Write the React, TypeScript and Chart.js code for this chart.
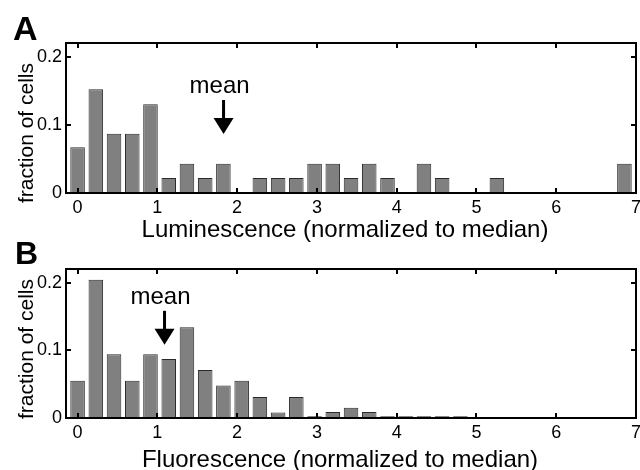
import React, { useEffect, useRef } from 'react';
import { Chart, registerables } from 'chart.js';

Chart.register(...registerables);

// ---------- data ----------
const binCenters = [
  0.0, 0.229, 0.457, 0.686, 0.914, 1.143, 1.371, 1.6, 1.828, 2.057, 2.285,
  2.514, 2.742, 2.971, 3.199, 3.428, 3.656, 3.885, 4.113, 4.342, 4.57,
  4.799, 5.027, 5.256, 5.484, 5.713, 5.941, 6.17, 6.398, 6.627, 6.855,
];
const luminescenceFractions = [
  0.067, 0.152, 0.087, 0.087, 0.13, 0.022, 0.043, 0.022, 0.043, 0, 0.022,
  0.022, 0.022, 0.043, 0.043, 0.022, 0.043, 0.022, 0, 0.043, 0.022,
  0, 0, 0.022, 0, 0, 0, 0, 0, 0, 0.043,
];
const fluorescenceFractions = [
  0.055, 0.204, 0.094, 0.055, 0.094, 0.087, 0.134, 0.071, 0.048, 0.055, 0.031,
  0.008, 0.031, 0.0025, 0.009, 0.015, 0.009, 0.0025, 0.0025, 0.0025, 0.0025,
  0.0025, 0, 0, 0, 0, 0, 0, 0, 0, 0,
];
const meanLuminescence = 1.83;
const meanFluorescence = 1.09;
const xTickValues = [0, 1, 2, 3, 4, 5, 6, 7];
const xTickLabels = ['0', '1', '2', '3', '4', '5', '6', '7'];
const yTickValues = [0, 0.1, 0.2];
const yTickLabels = ['0', '0.1', '0.2'];
const panelLetters = ['A', 'B'];
const xTitles = ['Luminescence (normalized to median)', 'Fluorescence (normalized to median)'];
const yTitle = 'fraction of cells';
const meanLabel = 'mean';

const FONT = '"Liberation Sans", Arial, Helvetica, sans-serif';
const W = 640;
const H = 470;

interface PanelStyle {
  padTop: number;
  xAxisHeight: number;
  letterX: number;
  letterBaseline: number;
  letterSize: number;
  yTitleCenter: number;
  xTitleCenter: number;
  xTitleBaseline: number;
  arrowTip: number;
}

// both panels share one 640x470 coordinate frame (overlapping transparent canvases)
const stylesA: PanelStyle = {
  padTop: 43,
  xAxisHeight: 277,
  letterX: 13,
  letterBaseline: 40,
  letterSize: 34,
  yTitleCenter: 133,
  xTitleCenter: 345,
  xTitleBaseline: 237,
  arrowTip: 0.0865,
};
const stylesB: PanelStyle = {
  padTop: 269,
  xAxisHeight: 52,
  letterX: 15,
  letterBaseline: 264,
  letterSize: 32,
  yTitleCenter: 349,
  xTitleCenter: 340,
  xTitleBaseline: 467,
  arrowTip: 0.108,
};

function makeConfig(values: number[], mean: number, letter: string, xTitle: string, st: PanelStyle): any {
  const decor = {
    id: 'matlabDecor',
    afterDraw(chart: any) {
      const { ctx, chartArea: a, scales } = chart;
      const x = scales.x;
      const y = scales.y;
      ctx.save();
      ctx.strokeStyle = '#000';
      ctx.lineWidth = 2;
      ctx.beginPath();
      xTickValues.forEach((v) => {
        const px = Math.round(x.getPixelForValue(v));
        ctx.moveTo(px, a.bottom);
        ctx.lineTo(px, a.bottom - 5);
        ctx.moveTo(px, a.top);
        ctx.lineTo(px, a.top + 5);
      });
      yTickValues.forEach((v) => {
        const py = Math.round(y.getPixelForValue(v));
        ctx.moveTo(a.left, py);
        ctx.lineTo(a.left + 5, py);
        ctx.moveTo(a.right, py);
        ctx.lineTo(a.right - 5, py);
      });
      ctx.stroke();
      ctx.strokeRect(a.left, a.top, a.right - a.left, a.bottom - a.top);

      // mean arrow
      const mx = x.getPixelForValue(mean);
      const tipY = y.getPixelForValue(st.arrowTip);
      ctx.fillStyle = '#000';
      ctx.beginPath();
      ctx.moveTo(mx, tipY);
      ctx.lineTo(mx - 10, tipY - 16);
      ctx.lineTo(mx + 10, tipY - 16);
      ctx.closePath();
      ctx.fill();
      ctx.fillRect(mx - 1.5, tipY - 34, 3, 19);
      ctx.font = `24px ${FONT}`;
      ctx.textAlign = 'center';
      ctx.textBaseline = 'alphabetic';
      ctx.fillText(meanLabel, mx - 4, tipY - 41);

      // x title
      ctx.fillText(xTitle, st.xTitleCenter, st.xTitleBaseline);

      // panel letter
      ctx.font = `bold ${st.letterSize}px ${FONT}`;
      ctx.textAlign = 'left';
      ctx.fillText(letter, st.letterX, st.letterBaseline);

      // y title
      ctx.translate(33, st.yTitleCenter);
      ctx.rotate(-Math.PI / 2);
      ctx.font = `21px ${FONT}`;
      ctx.textAlign = 'center';
      ctx.fillText(yTitle, 0, 0);
      ctx.restore();
    },
  };

  return {
    type: 'bar',
    data: {
      datasets: [
        {
          data: binCenters.map((c, i) => ({ x: c, y: values[i] })),
          backgroundColor: '#808080',
          borderColor: '#2a2a2a',
          borderWidth: 1,
          barPercentage: 0.8,
          categoryPercentage: 1,
        },
      ],
    },
    options: {
      responsive: false,
      animation: false,
      devicePixelRatio: 1,
      layout: { padding: { top: st.padTop, right: 4, left: 0, bottom: 0 } },
      plugins: { legend: { display: false }, tooltip: { enabled: false } },
      scales: {
        x: {
          type: 'linear',
          min: -0.145,
          max: 7,
          offset: false,
          grid: { display: false, drawTicks: false },
          border: { display: false },
          afterBuildTicks: (s: any) => {
            s.ticks = xTickValues.map((v) => ({ value: v }));
          },
          afterFit: (s: any) => {
            s.height = st.xAxisHeight;
            s.paddingLeft = 0;
            s.paddingRight = 0;
          },
          ticks: {
            padding: 4,
            color: '#000',
            font: { family: FONT, size: 18 },
            maxRotation: 0,
            autoSkip: false,
            callback: (v: number) => xTickLabels[xTickValues.indexOf(v)] ?? '',
          },
        },
        y: {
          type: 'linear',
          min: 0,
          max: 0.22,
          grid: { display: false, drawTicks: false },
          border: { display: false },
          afterBuildTicks: (s: any) => {
            s.ticks = yTickValues.map((v) => ({ value: v }));
          },
          afterFit: (s: any) => {
            s.width = 66;
          },
          ticks: {
            padding: 4,
            color: '#000',
            font: { family: FONT, size: 18 },
            autoSkip: false,
            callback: (v: number) => yTickLabels[yTickValues.indexOf(v)] ?? '',
          },
        },
      },
    },
    plugins: [decor],
  };
}

function Panel(props: { values: number[]; mean: number; letter: string; xTitle: string; st: PanelStyle }) {
  const ref = useRef<HTMLCanvasElement | null>(null);
  useEffect(() => {
    if (!ref.current) return;
    const chart = new Chart(ref.current, makeConfig(props.values, props.mean, props.letter, props.xTitle, props.st));
    return () => chart.destroy();
  }, []);
  return (
    <canvas
      ref={ref}
      width={W}
      height={H}
      style={{ display: 'block', position: 'absolute', left: 0, top: 0, width: W, height: H }}
    />
  );
}

export default function App() {
  return (
    <div style={{ position: 'fixed', left: 0, top: 0, width: W, height: H, background: '#fff' }}>
      <Panel values={luminescenceFractions} mean={meanLuminescence} letter={panelLetters[0]} xTitle={xTitles[0]} st={stylesA} />
      <Panel values={fluorescenceFractions} mean={meanFluorescence} letter={panelLetters[1]} xTitle={xTitles[1]} st={stylesB} />
    </div>
  );
}
